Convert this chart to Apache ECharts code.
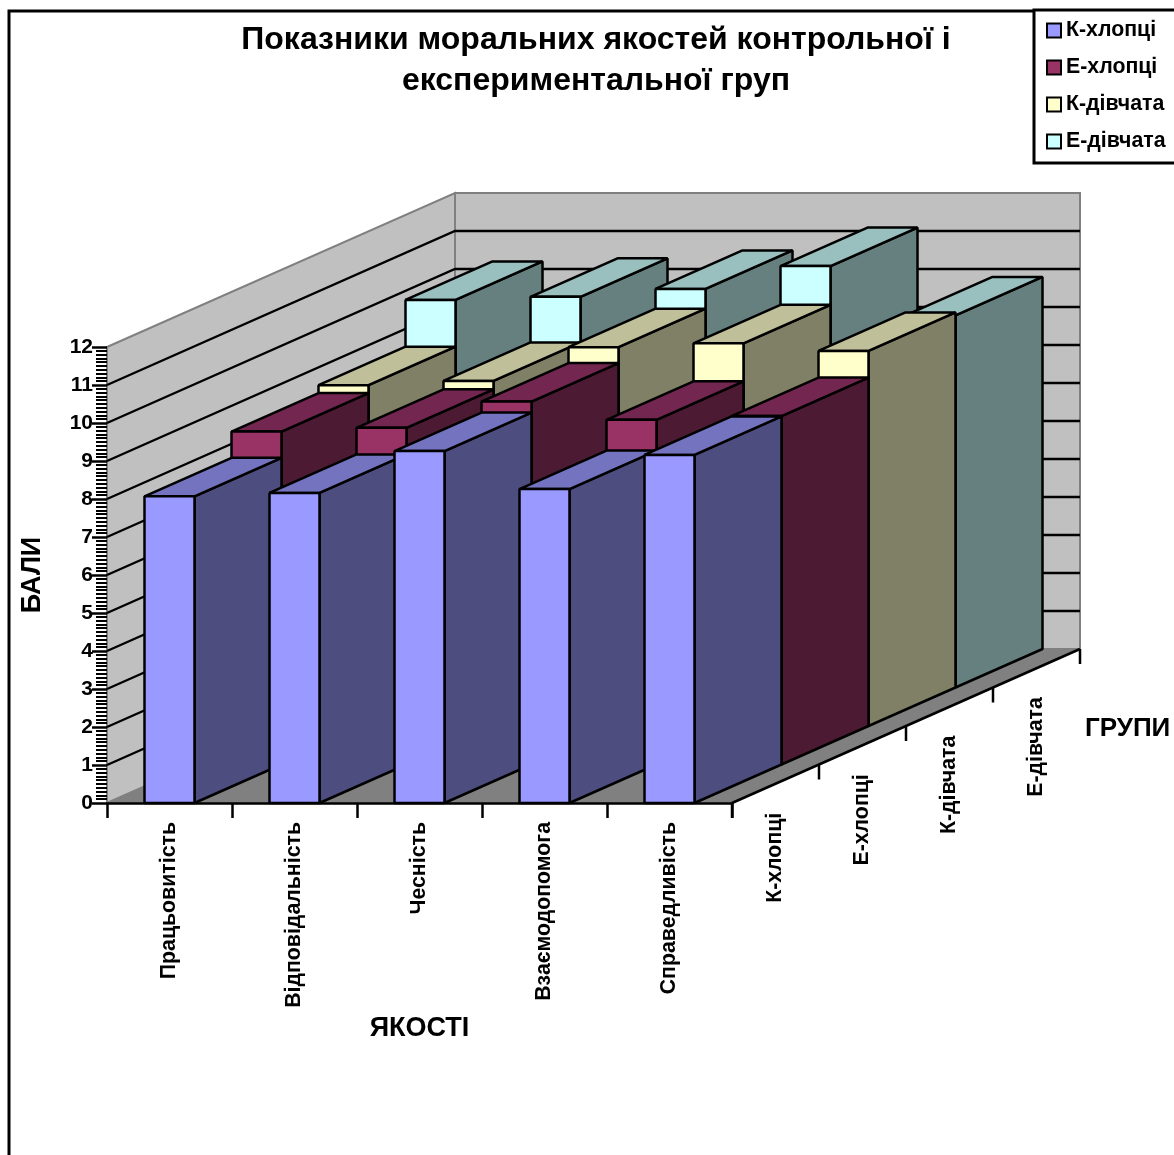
<!DOCTYPE html>
<html><head><meta charset="utf-8">
<style>html,body{margin:0;padding:0;background:#fff;overflow:hidden}#c{width:1174px;height:1155px}</style>
<script src="https://cdn.jsdelivr.net/npm/echarts@6/dist/echarts.min.js"></script>
</head><body><div id="c"></div>
<script>
const chartTitle = 'Показники моральних якостей контрольної і\nекспериментальної груп';
const qualities = ['Працьовитість','Відповідальність','Чесність','Взаємодопомога','Справедливість'];
const groups = ['К-хлопці','Е-хлопці','К-дівчата','Е-дівчата'];
const kBoys  = [8.07, 8.16, 9.26, 8.26, 9.16];
const eBoys  = [8.76, 8.86, 9.55, 9.07, 9.17];
const kGirls = [8.97, 9.08, 9.97, 10.07, 9.87];
const eGirls = [10.2, 10.28, 10.49, 11.09, 9.79];
const yTicks = [0,1,2,3,4,5,6,7,8,9,10,11,12];
const faceColors = [
  ['#9999ff','#7373bf','#4d4d80'],
  ['#993366','#732650','#4d1a33'],
  ['#ffffcc','#bfbf99','#808066'],
  ['#ccffff','#99bfbf','#668080']
];
const DX = 87, DY = 38.5;
const FONT = '"Liberation Sans", Arial, sans-serif';
const outline = {stroke:'#000', lineWidth:2.5, lineJoin:'bevel'};

function barSeries(name, values, depth){
  const [front, top, side] = faceColors[depth];
  return {
    type:'custom', name, coordinateSystem:'cartesian2d', clip:false, silent:true,
    z: 3, itemStyle:{color:front},
    data: values.map((v,i)=>[i,v]),
    encode:{x:0,y:1},
    renderItem(params, api){
      const i = api.value(0), v = api.value(1);
      const bw = api.size([1,0])[0] * 0.4;
      const t = api.coord([i,v]), b = api.coord([i,0]);
      const l = t[0]-bw/2 + depth*DX, r = t[0]+bw/2 + depth*DX;
      const ty = t[1] - depth*DY, by = b[1] - depth*DY;
      const poly = (pts,fill)=>({type:'polygon',shape:{points:pts},style:{fill,...outline}});
      return {type:'group',children:[
        poly([[r,ty],[r+DX,ty-DY],[r+DX,by-DY],[r,by]],side),
        poly([[l,ty],[l+DX,ty-DY],[r+DX,ty-DY],[r,ty]],top),
        poly([[l,ty],[r,ty],[r,by],[l,by]],front)
      ]};
    }
  };
}

const wallSeries = {
  type:'custom', name:'walls', coordinateSystem:'cartesian2d', clip:false, silent:true, z:1,
  data:[[0,0]], encode:{x:0,y:1},
  renderItem(params, api){
    const band = api.size([1,0])[0], n = qualities.length, d = groups.length;
    const x0 = api.coord([0,0])[0]-band/2, x1 = x0+band*n;
    const y0 = api.coord([0,0])[1], yM = api.coord([0,yTicks[yTicks.length-1]])[1];
    const W = DX*d, H = DY*d;
    const gray = {stroke:'#808080', lineWidth:2};
    const children = [
      {type:'polygon',shape:{points:[[x0,yM],[x0+W,yM-H],[x0+W,y0-H],[x0,y0]]},style:{fill:'#c0c0c0',...gray}},
      {type:'polygon',shape:{points:[[x0+W,yM-H],[x1+W,yM-H],[x1+W,y0-H],[x0+W,y0-H]]},style:{fill:'#c0c0c0',...gray}},
      {type:'polygon',shape:{points:[[x0,y0],[x1,y0],[x1+W,y0-H],[x0+W,y0-H]]},style:{fill:'#808080',stroke:'#808080',lineWidth:1}}
    ];
    yTicks.forEach(v=>{
      if(v===0 || v===yTicks[yTicks.length-1]) return;
      const y = api.coord([0,v])[1];
      children.push({type:'polyline',shape:{points:[[x0,y],[x0+W,y-H],[x1+W,y-H]]},style:{fill:'none',stroke:'#000',lineWidth:2.3}});
    });
    children.push({type:'line',shape:{x1:x1,y1:y0,x2:x1+W,y2:y0-H},style:{stroke:'#000',lineWidth:2.5}});
    return {type:'group',children};
  }
};

const depthAxisSeries = {
  type:'custom', name:'depthAxis', coordinateSystem:'cartesian2d', clip:false, silent:true, z:4,
  data: groups.map((g,i)=>[i,0]), encode:{x:0,y:1},
  renderItem(params, api){
    const j = params.dataIndex;
    const band = api.size([1,0])[0];
    const x1 = api.coord([qualities.length-1,0])[0]+band/2, y0 = api.coord([0,0])[1];
    const tx = x1+(j+1)*DX, ty = y0-(j+1)*DY;
    const mx = x1+(j+0.5)*DX, my = y0-(j+0.5)*DY;
    const kids = [
      {type:'text',x:mx,y:my+29,rotation:Math.PI/2,
       style:{text:groups[j],font:'bold 21.3px '+FONT,fill:'#000',align:'right',verticalAlign:'middle'}},
      {type:'line',shape:{x1:tx,y1:ty,x2:tx,y2:ty+15},style:{stroke:'#000',lineWidth:2.5}}
    ];
    if(j===0) kids.push({type:'line',shape:{x1:x1,y1:y0,x2:x1,y2:y0+15},style:{stroke:'#000',lineWidth:2.5}});
    return {type:'group',children:kids};
  }
};

const chart = echarts.init(document.getElementById('c'),null,{renderer:'canvas'});
chart.setOption({
  animation:false,
  backgroundColor:'#fff',
  title:{text:chartTitle,left:596,top:20,textAlign:'center',padding:0,
    textStyle:{fontFamily:FONT,fontWeight:'bold',fontSize:32,lineHeight:41,color:'#000'}},
  legend:{
    left:1034,top:10,orient:'vertical',align:'left',icon:'rect',
    itemWidth:14,itemHeight:14,itemGap:16,
    padding:[10,30,11,12],
    backgroundColor:'#fff',borderColor:'#000',borderWidth:3,
    textStyle:{fontFamily:FONT,fontWeight:'bold',fontSize:21.3,color:'#000'},
    data:groups.map((g,i)=>({name:g,itemStyle:{color:faceColors[i][0],borderColor:'#000',borderWidth:2}}))
  },
  grid:{left:107,right:442,top:347,bottom:352,containLabel:false,outerBoundsMode:'none'},
  xAxis:{
    type:'category',data:qualities,z:6,
    name:'ЯКОСТІ',nameLocation:'middle',nameGap:212,
    nameTextStyle:{fontFamily:FONT,fontWeight:'bold',fontSize:27,color:'#000'},
    axisLine:{show:true,lineStyle:{color:'#000',width:2.5}},
    axisTick:{show:true,length:15,lineStyle:{color:'#000',width:2.5},alignWithLabel:false},
    axisLabel:{rotate:90,interval:0,margin:19,fontFamily:FONT,fontWeight:'bold',fontSize:21.3,color:'#000'},
    splitLine:{show:false}
  },
  yAxis:{
    type:'value',min:0,max:12,interval:1,z:6,
    name:'БАЛИ',nameLocation:'middle',nameRotate:90,nameGap:61,
    nameTextStyle:{fontFamily:FONT,fontWeight:'bold',fontSize:27,color:'#000'},
    axisLine:{show:false},
    axisTick:{show:true,length:15,lineStyle:{color:'#000',width:2.5}},
    minorTick:{show:true,splitNumber:10,length:11,lineStyle:{color:'#000',width:2}},
    axisLabel:{margin:14,padding:[3,0,0,0],fontFamily:FONT,fontWeight:'bold',fontSize:21,color:'#000'},
    splitLine:{show:false}
  },
  graphic:[
    {type:'rect',z:-1,shape:{x:9,y:11,width:1400,height:1400},style:{fill:'none',stroke:'#000',lineWidth:3},silent:true},
    {type:'text',left:1085,top:716,style:{text:'ГРУПИ',font:'bold 26px '+FONT,fill:'#000'},silent:true}
  ],
  series:[
    wallSeries,
    barSeries(groups[3],eGirls,3),
    barSeries(groups[2],kGirls,2),
    barSeries(groups[1],eBoys,1),
    barSeries(groups[0],kBoys,0),
    depthAxisSeries
  ]
});
</script></body></html>
